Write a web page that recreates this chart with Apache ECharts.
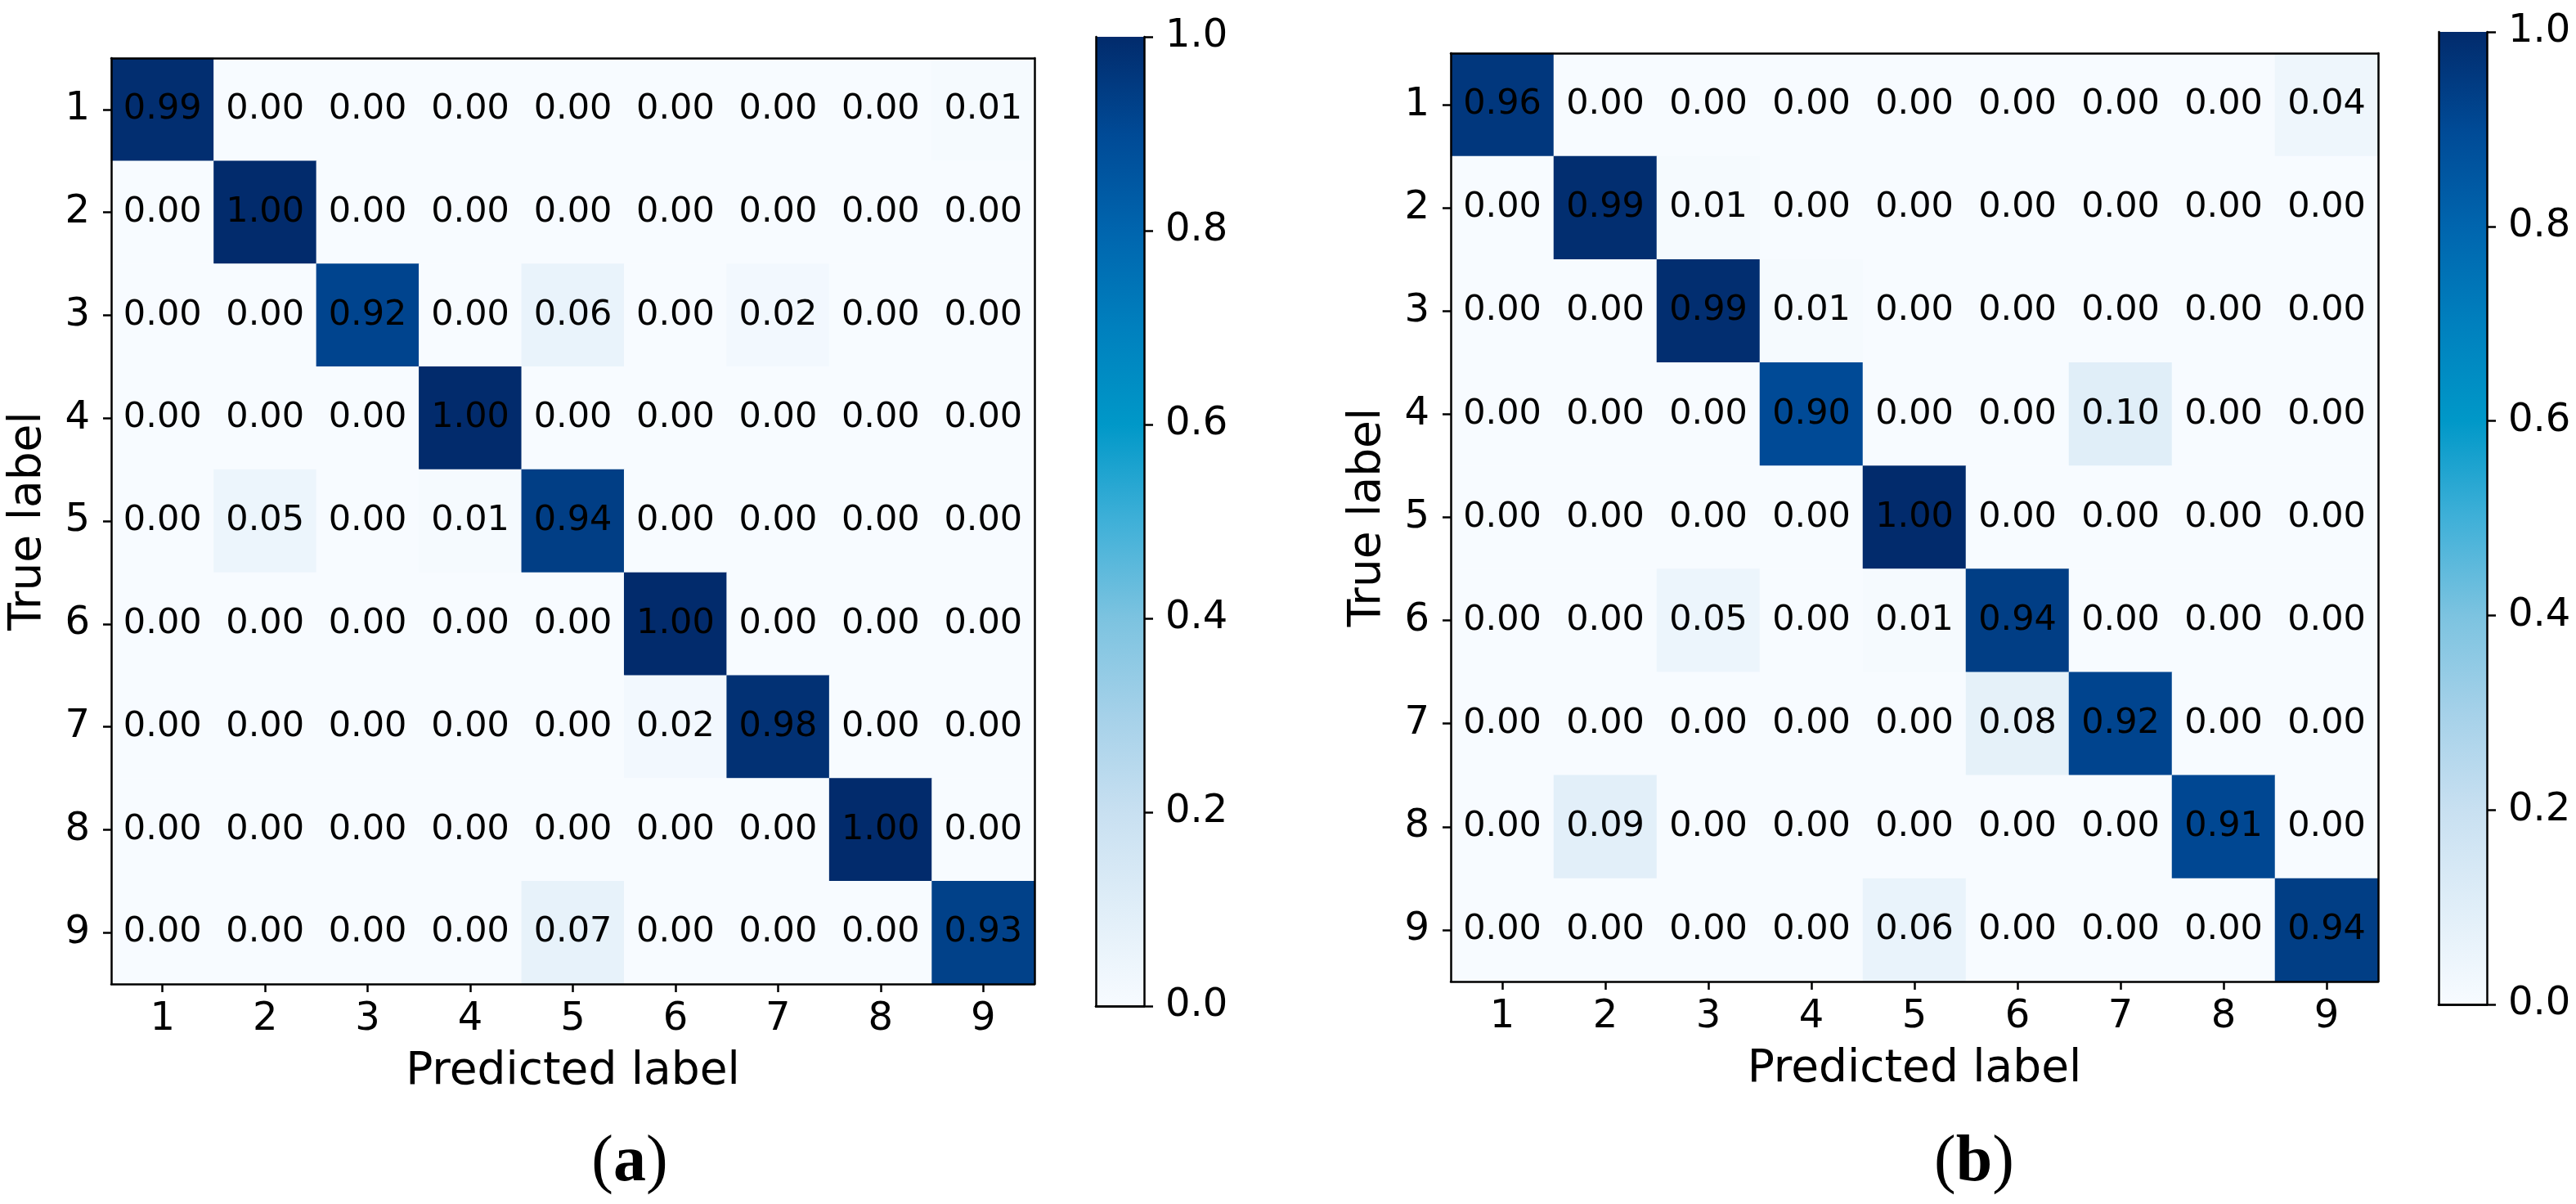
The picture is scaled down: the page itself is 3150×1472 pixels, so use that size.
<!DOCTYPE html>
<html>
<head>
<meta charset="utf-8">
<script src="https://cdn.jsdelivr.net/npm/echarts@6/dist/echarts.min.js"></script>
<style>
html,body{margin:0;padding:0;background:#fff;}
#chart{width:3150px;height:1472px;}
</style>
</head>
<body>
<div id="chart"></div>
<script>
const categories = ['1','2','3','4','5','6','7','8','9'];

const matrixA = [
  [0.99,0.00,0.00,0.00,0.00,0.00,0.00,0.00,0.01],
  [0.00,1.00,0.00,0.00,0.00,0.00,0.00,0.00,0.00],
  [0.00,0.00,0.92,0.00,0.06,0.00,0.02,0.00,0.00],
  [0.00,0.00,0.00,1.00,0.00,0.00,0.00,0.00,0.00],
  [0.00,0.05,0.00,0.01,0.94,0.00,0.00,0.00,0.00],
  [0.00,0.00,0.00,0.00,0.00,1.00,0.00,0.00,0.00],
  [0.00,0.00,0.00,0.00,0.00,0.02,0.98,0.00,0.00],
  [0.00,0.00,0.00,0.00,0.00,0.00,0.00,1.00,0.00],
  [0.00,0.00,0.00,0.00,0.07,0.00,0.00,0.00,0.93]
];

const matrixB = [
  [0.96,0.00,0.00,0.00,0.00,0.00,0.00,0.00,0.04],
  [0.00,0.99,0.01,0.00,0.00,0.00,0.00,0.00,0.00],
  [0.00,0.00,0.99,0.01,0.00,0.00,0.00,0.00,0.00],
  [0.00,0.00,0.00,0.90,0.00,0.00,0.10,0.00,0.00],
  [0.00,0.00,0.00,0.00,1.00,0.00,0.00,0.00,0.00],
  [0.00,0.00,0.05,0.00,0.01,0.94,0.00,0.00,0.00],
  [0.00,0.00,0.00,0.00,0.00,0.08,0.92,0.00,0.00],
  [0.00,0.09,0.00,0.00,0.00,0.00,0.00,0.91,0.00],
  [0.00,0.00,0.00,0.00,0.06,0.00,0.00,0.00,0.94]
];

const colorbarMin = 0;
const colorbarMax = 1;
const colorbarStep = 0.2;

const xAxisTitle = 'Predicted label';
const yAxisTitle = 'True label';
const captions = ['a', 'b'];

// colour map sampled at 0.0, 0.1, ..., 1.0
const cmap = ['#f7fbff','#e0eef8','#c8e0f1','#a5d1e9','#7cc3e0','#3fb0d8','#0098c8','#0080be','#0065ae','#004a96','#022b6c'];

function toCells(m) {
  const out = [];
  m.forEach((row, yi) => row.forEach((v, xi) => out.push([xi, yi, v])));
  return out;
}

const FONT = 'DejaVu Sans';
const AX = '#000';
const LW = 2.5;

function lineOnlyCat(gridIndex, position) {
  return {
    type: 'category', data: categories, gridIndex, position, z: 10,
    inverse: position === 'left' || position === 'right',
    axisLine: {show: true, lineStyle: {color: AX, width: LW}},
    axisTick: {show: false}, axisLabel: {show: false}, splitLine: {show: false}
  };
}
function mainX(gridIndex) {
  return {
    type: 'category', data: categories, gridIndex, position: 'bottom', z: 10,
    name: xAxisTitle, nameLocation: 'middle', nameGap: 80,
    nameTextStyle: {fontFamily: FONT, fontSize: 55, color: '#000'},
    axisLine: {show: true, lineStyle: {color: AX, width: LW}},
    axisTick: {show: true, alignWithLabel: true, length: 10, lineStyle: {color: AX, width: LW}},
    axisLabel: {fontFamily: FONT, fontSize: 48, color: '#000', margin: 20},
    splitLine: {show: false}
  };
}
function mainY(gridIndex) {
  return {
    type: 'category', data: categories, gridIndex, position: 'left', inverse: true, z: 10,
    name: yAxisTitle, nameLocation: 'middle', nameGap: 74, nameRotate: 90,
    nameTextStyle: {fontFamily: FONT, fontSize: 55, color: '#000'},
    axisLine: {show: true, lineStyle: {color: AX, width: LW}},
    axisTick: {show: true, alignWithLabel: true, length: 10, lineStyle: {color: AX, width: LW}},
    axisLabel: {fontFamily: FONT, fontSize: 48, color: '#000', margin: 26},
    splitLine: {show: false}
  };
}
function cbX(gridIndex, position) {
  return {
    type: 'category', data: [''], gridIndex, position, z: 10,
    axisLine: {show: true, lineStyle: {color: AX, width: LW}},
    axisTick: {show: false}, axisLabel: {show: false}, splitLine: {show: false}
  };
}
function cbY(gridIndex, position, labels) {
  return {
    type: 'value', gridIndex, position, min: colorbarMin, max: colorbarMax, interval: colorbarStep, z: 10,
    axisLine: {show: true, lineStyle: {color: AX, width: LW}},
    axisTick: {show: labels, length: 11, lineStyle: {color: AX, width: LW}},
    axisLabel: {show: labels, fontFamily: FONT, fontSize: 48, color: '#000', margin: 26,
      formatter: v => v.toFixed(1)},
    splitLine: {show: false}
  };
}

const gradient = {
  type: 'linear', x: 0, y: 1, x2: 0, y2: 0,
  colorStops: cmap.map((c, i) => ({offset: i / (cmap.length - 1), color: c}))
};

function heat(xi, yi, m) {
  return {
    type: 'heatmap', xAxisIndex: xi, yAxisIndex: yi, data: toCells(m), z: 2,
    label: {show: true, formatter: p => p.value[2].toFixed(2), fontFamily: FONT, fontSize: 43, color: '#000'},
    emphasis: {disabled: true}, itemStyle: {borderWidth: 0}
  };
}
function cbar(xi, yi) {
  return {
    type: 'bar', xAxisIndex: xi, yAxisIndex: yi, data: [colorbarMax], barWidth: '100%', z: 2,
    itemStyle: {color: gradient}, silent: true
  };
}

function caption(letter, x) {
  return {
    text: '{p|(}{b|' + letter + '}{p|)}', left: x, top: 1372, textAlign: 'center',
    textStyle: {fontWeight: 'normal', rich: {
      p: {fontFamily: 'Liberation Serif', fontSize: 80, fontWeight: 'normal', color: '#000', lineHeight: 90},
      b: {fontFamily: 'Liberation Serif', fontSize: 80, fontWeight: 'bold', color: '#000', lineHeight: 90}
    }}
  };
}

const option = {
  backgroundColor: '#fff',
  animation: false,
  title: [caption(captions[0], 765), caption(captions[1], 2409)],
  grid: [
    {left: 136, top: 71, width: 1129, height: 1132},
    {left: 1774, top: 65, width: 1134, height: 1135},
    {left: 1340, top: 45, width: 59, height: 1185},
    {left: 2982, top: 39, width: 59, height: 1189}
  ],
  xAxis: [
    mainX(0), lineOnlyCat(0, 'top'),
    mainX(1), lineOnlyCat(1, 'top'),
    cbX(2, 'bottom'), cbX(2, 'top'),
    cbX(3, 'bottom'), cbX(3, 'top')
  ],
  yAxis: [
    mainY(0), lineOnlyCat(0, 'right'),
    mainY(1), lineOnlyCat(1, 'right'),
    cbY(2, 'left', false), cbY(2, 'right', true),
    cbY(3, 'left', false), cbY(3, 'right', true)
  ],
  visualMap: {
    type: 'continuous', show: false, min: colorbarMin, max: colorbarMax,
    seriesIndex: [0, 1], dimension: 2, inRange: {color: cmap}
  },
  series: [
    heat(0, 0, matrixA),
    heat(2, 2, matrixB),
    cbar(4, 5),
    cbar(6, 7)
  ]
};

const chart = echarts.init(document.getElementById('chart'), null, {renderer: 'canvas'});
chart.setOption(option);
</script>
</body>
</html>
